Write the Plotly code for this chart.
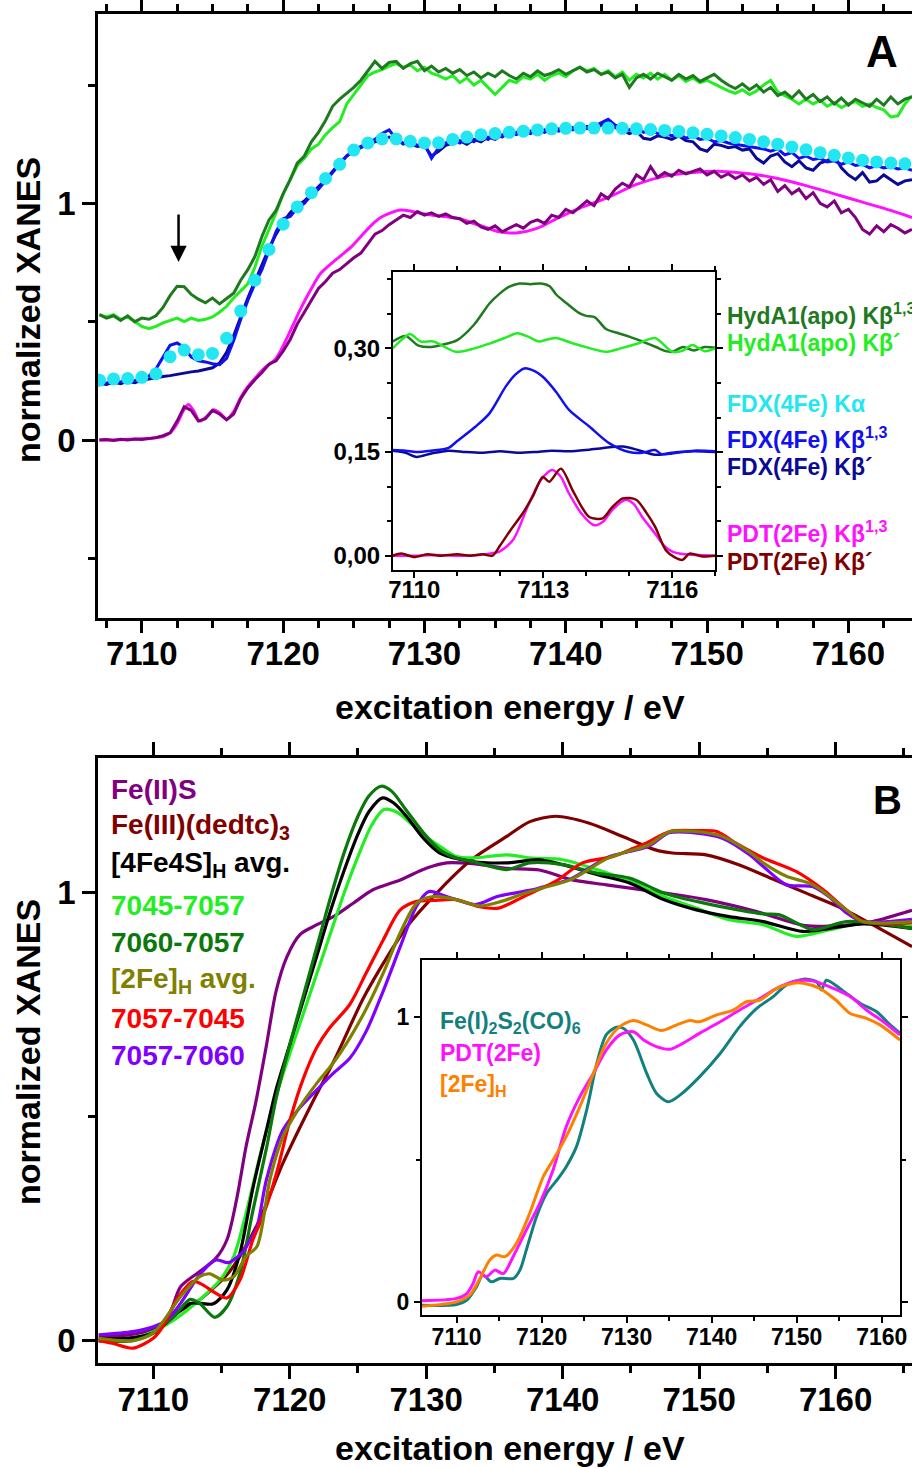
import plotly.graph_objects as go

# ---------------- Panel A: main XANES (0.5 eV grid for noisy traces) ----------------
E_A = [7107 + 0.5 * i for i in range(116)]

hyd_kb13 = [0.530, 0.515, 0.525, 0.505, 0.525, 0.500, 0.515, 0.510, 0.525, 0.560,
            0.610, 0.650, 0.648, 0.615, 0.595, 0.580, 0.600, 0.575, 0.598, 0.620,
            0.675, 0.720, 0.775, 0.860, 0.930, 0.970, 1.040, 1.100, 1.170, 1.200,
            1.260, 1.300, 1.350, 1.410, 1.440, 1.465, 1.490, 1.520, 1.560, 1.600,
            1.570, 1.595, 1.600, 1.570, 1.590, 1.600, 1.560, 1.580, 1.555, 1.570,
            1.550, 1.565, 1.540, 1.555, 1.530, 1.550, 1.535, 1.560, 1.540, 1.525,
            1.550, 1.535, 1.560, 1.540, 1.550, 1.565, 1.545, 1.560, 1.575, 1.555,
            1.565, 1.545, 1.555, 1.530, 1.545, 1.490, 1.530, 1.545, 1.525, 1.550,
            1.535, 1.520, 1.545, 1.525, 1.540, 1.515, 1.530, 1.545, 1.520, 1.500,
            1.485, 1.505, 1.480, 1.500, 1.470, 1.490, 1.455, 1.470, 1.445, 1.475,
            1.440, 1.460, 1.430, 1.450, 1.420, 1.445, 1.415, 1.440, 1.425, 1.410,
            1.440, 1.415, 1.450, 1.420, 1.440, 1.450]

hyd_kbp = [0.530, 0.520, 0.530, 0.510, 0.520, 0.500, 0.480, 0.470, 0.480, 0.495,
           0.505, 0.515, 0.500, 0.515, 0.505, 0.510, 0.520, 0.540, 0.565, 0.600,
           0.630, 0.660, 0.730, 0.820, 0.890, 0.960, 1.040, 1.100, 1.160, 1.190,
           1.230, 1.250, 1.290, 1.320, 1.345, 1.420, 1.460, 1.500, 1.540, 1.555,
           1.565, 1.580, 1.590, 1.575, 1.585, 1.560, 1.575, 1.550, 1.540, 1.525,
           1.540, 1.510, 1.530, 1.500, 1.520, 1.490, 1.460, 1.490, 1.520, 1.510,
           1.535, 1.525, 1.545, 1.520, 1.540, 1.550, 1.535, 1.560, 1.575, 1.560,
           1.570, 1.545, 1.560, 1.535, 1.555, 1.520, 1.545, 1.530, 1.550, 1.525,
           1.545, 1.520, 1.540, 1.515, 1.530, 1.510, 1.520, 1.505, 1.490, 1.475,
           1.465, 1.480, 1.460, 1.475, 1.500, 1.520, 1.470, 1.455, 1.440, 1.420,
           1.440, 1.420, 1.435, 1.410, 1.425, 1.405, 1.420, 1.430, 1.410, 1.420,
           1.405, 1.395, 1.365, 1.370, 1.420, 1.455]

fdx_kb13 = [0.245, 0.240, 0.250, 0.245, 0.255, 0.250, 0.262, 0.270, 0.300, 0.350,
            0.400, 0.410, 0.390, 0.350, 0.335, 0.330, 0.322, 0.318, 0.345, 0.420,
            0.510, 0.590, 0.660, 0.720, 0.800, 0.880, 0.935, 0.945, 0.980, 1.000,
            1.035, 1.060, 1.095, 1.130, 1.165, 1.200, 1.225, 1.240, 1.255, 1.270,
            1.295, 1.310, 1.270, 1.250, 1.262, 1.245, 1.250, 1.190, 1.235, 1.255,
            1.270, 1.255, 1.275, 1.260, 1.285, 1.270, 1.295, 1.280, 1.300, 1.290,
            1.305, 1.295, 1.310, 1.300, 1.315, 1.305, 1.320, 1.310, 1.325, 1.315,
            1.325, 1.340, 1.355, 1.330, 1.320, 1.310, 1.320, 1.300, 1.310, 1.295,
            1.300, 1.285, 1.295, 1.275, 1.285, 1.270, 1.275, 1.260, 1.265, 1.255,
            1.250, 1.245, 1.240, 1.235, 1.230, 1.220, 1.230, 1.205, 1.215, 1.190,
            1.200, 1.185, 1.190, 1.175, 1.180, 1.165, 1.175, 1.160, 1.165, 1.150,
            1.160, 1.150, 1.155, 1.145, 1.150, 1.140]

fdx_kbp = [0.240, 0.235, 0.245, 0.238, 0.248, 0.242, 0.252, 0.258, 0.262, 0.268,
           0.272, 0.278, 0.282, 0.288, 0.292, 0.298, 0.305, 0.325, 0.370, 0.440,
           0.520, 0.600, 0.670, 0.740, 0.810, 0.870, 0.920, 0.960, 0.990, 1.010,
           1.040, 1.070, 1.100, 1.135, 1.170, 1.200, 1.220, 1.235, 1.250, 1.260,
           1.270, 1.280, 1.265, 1.255, 1.250, 1.240, 1.245, 1.200, 1.220, 1.245,
           1.255, 1.265, 1.250, 1.270, 1.260, 1.280, 1.270, 1.290, 1.285, 1.300,
           1.295, 1.305, 1.295, 1.310, 1.300, 1.315, 1.305, 1.320, 1.310, 1.325,
           1.315, 1.330, 1.345, 1.320, 1.310, 1.295, 1.305, 1.275, 1.270, 1.285,
           1.280, 1.270, 1.285, 1.265, 1.260, 1.230, 1.220, 1.250, 1.245, 1.235,
           1.240, 1.225, 1.230, 1.190, 1.170, 1.200, 1.210, 1.175, 1.155, 1.180,
           1.150, 1.140, 1.170, 1.180, 1.200, 1.150, 1.120, 1.100, 1.130, 1.090,
           1.095, 1.120, 1.100, 1.080, 1.095, 1.100]

pdt_kbp_main = [0.000, 0.002, -0.002, 0.003, 0.000, 0.004, 0.002, 0.006, 0.010, 0.018,
                0.030, 0.080, 0.140, 0.125, 0.080, 0.090, 0.125, 0.110, 0.085, 0.110,
                0.175, 0.220, 0.255, 0.285, 0.320, 0.335, 0.375, 0.425, 0.490, 0.540,
                0.590, 0.640, 0.670, 0.705, 0.720, 0.745, 0.770, 0.790, 0.830, 0.870,
                0.885, 0.910, 0.930, 0.950, 0.940, 0.965, 0.950, 0.960, 0.945, 0.955,
                0.940, 0.935, 0.915, 0.925, 0.900, 0.890, 0.905, 0.880, 0.895, 0.910,
                0.895, 0.920, 0.930, 0.915, 0.950, 0.940, 0.975, 0.960, 0.985, 1.010,
                0.990, 1.040, 1.020, 1.060, 1.085, 1.070, 1.120, 1.100, 1.155, 1.110,
                1.130, 1.115, 1.140, 1.125, 1.135, 1.145, 1.120, 1.135, 1.110, 1.125,
                1.105, 1.120, 1.095, 1.110, 1.080, 1.100, 1.050, 1.075, 1.040, 1.060,
                1.020, 1.045, 1.000, 0.985, 1.010, 0.960, 0.975, 0.940, 0.890, 0.870,
                0.905, 0.880, 0.910, 0.895, 0.875, 0.890]

E_ka = [7107 + i for i in range(58)]
fdx_ka = [0.253, 0.258, 0.260, 0.265, 0.280, 0.352, 0.380, 0.360, 0.366, 0.430,
          0.545, 0.675, 0.805, 0.912, 0.985, 1.045, 1.105, 1.165, 1.225, 1.255,
          1.272, 1.272, 1.262, 1.255, 1.256, 1.270, 1.280, 1.290, 1.295, 1.300,
          1.305, 1.310, 1.315, 1.317, 1.318, 1.318, 1.318, 1.317, 1.315, 1.312,
          1.308, 1.304, 1.298, 1.292, 1.285, 1.278, 1.270, 1.260, 1.250, 1.238,
          1.226, 1.214, 1.203, 1.192, 1.182, 1.175, 1.170, 1.167]

E_pdt_main = [7107, 7108, 7109, 7110, 7111, 7111.5, 7112, 7112.5, 7113, 7113.3,
              7113.7, 7114.1, 7114.6, 7115.1, 7115.6, 7116, 7116.5, 7117, 7117.5, 7118,
              7118.6, 7119.5, 7120.5, 7121.2, 7122, 7122.6, 7123.3, 7124, 7124.8, 7125.5,
              7126.2, 7126.9, 7127.6, 7128.3, 7129, 7129.7, 7130.6, 7131.6, 7132.5, 7133.5,
              7134.5, 7135.3, 7136.5, 7138, 7139.5, 7141, 7143, 7145, 7147, 7149,
              7151, 7153, 7155, 7157, 7159, 7161, 7163, 7164.5]
pdt_kb13_main = [0, 0, 0.003, 0.005, 0.01, 0.015, 0.03, 0.07, 0.13, 0.15,
                 0.12, 0.08, 0.1, 0.128, 0.11, 0.088, 0.12, 0.18, 0.225, 0.26,
                 0.3, 0.345, 0.46, 0.55, 0.64, 0.70, 0.74, 0.775, 0.815, 0.86,
                 0.905, 0.94, 0.96, 0.972, 0.968, 0.958, 0.95, 0.943, 0.935, 0.915,
                 0.895, 0.88, 0.875, 0.895, 0.94, 0.98, 1.025, 1.08, 1.115, 1.13,
                 1.135, 1.125, 1.105, 1.075, 1.04, 1.005, 0.97, 0.94]

# ---------------- Panel A inset: Kbeta-detected pre-edge ----------------
ins_hyd13_x = [7109.5, 7109.8, 7110.1, 7110.4, 7110.7, 7111.0, 7111.4, 7111.75, 7112.0, 7112.2,
               7112.45, 7112.7, 7112.95, 7113.15, 7113.3, 7113.55, 7113.84, 7114.0, 7114.2, 7114.46,
               7114.75, 7115.0, 7115.3, 7115.62, 7115.85, 7116.0, 7116.25, 7116.5, 7116.75, 7117.0]
ins_hyd13_y = [0.31, 0.318, 0.304, 0.302, 0.306, 0.312, 0.335, 0.365, 0.38, 0.389,
               0.394, 0.393, 0.394, 0.39, 0.378, 0.365, 0.351, 0.347, 0.345, 0.328,
               0.322, 0.317, 0.31, 0.302, 0.296, 0.295, 0.302, 0.297, 0.302, 0.301]
ins_hydp_x = [7109.5, 7109.7, 7109.9, 7110.15, 7110.45, 7110.97, 7111.4, 7111.75, 7112.1, 7112.4,
              7112.65, 7112.9, 7113.1, 7113.3, 7113.7, 7114.1, 7114.46, 7114.8, 7115.2, 7115.6,
              7116.0, 7116.25, 7116.47, 7116.75, 7117.0]
ins_hydp_y = [0.300, 0.312, 0.321, 0.31, 0.31, 0.295, 0.300, 0.307, 0.315, 0.322,
              0.317, 0.31, 0.313, 0.315, 0.307, 0.300, 0.295, 0.300, 0.307, 0.315,
              0.295, 0.297, 0.305, 0.296, 0.300]
ins_fdx13_x = [7109.5, 7109.8, 7110.05, 7110.4, 7110.8, 7111.0, 7111.43, 7111.75, 7112.13, 7112.35,
               7112.56, 7112.8, 7112.99, 7113.3, 7113.6, 7114.07, 7114.53, 7115.0, 7115.3, 7115.6,
               7115.75, 7116.0, 7116.5, 7117.0]
ins_fdx13_y = [0.153, 0.152, 0.15, 0.152, 0.156, 0.166, 0.187, 0.206, 0.245, 0.262,
               0.271, 0.267, 0.259, 0.237, 0.211, 0.187, 0.163, 0.150, 0.149, 0.153,
               0.147, 0.148, 0.152, 0.151]
ins_fdxp_x = [7109.5, 7109.8, 7110.05, 7110.4, 7110.8, 7111.2, 7111.6, 7112.0, 7112.4, 7112.8,
              7113.2, 7113.6, 7114.0, 7114.4, 7114.85, 7115.2, 7115.6, 7116.0, 7116.5, 7117.0]
ins_fdxp_y = [0.152, 0.149, 0.143, 0.148, 0.152, 0.150, 0.149, 0.151, 0.149, 0.150,
              0.152, 0.151, 0.153, 0.156, 0.158, 0.153, 0.146, 0.149, 0.151, 0.150]
ins_pdt13_x = [7109.5, 7110, 7110.5, 7111, 7111.5, 7111.75, 7111.98, 7112.3, 7112.67, 7112.95,
               7113.2, 7113.4, 7113.6, 7113.9, 7114.19, 7114.4, 7114.6, 7114.92, 7115.1, 7115.3,
               7115.6, 7115.8, 7116.0, 7116.3, 7116.6, 7117.0]
ins_pdt13_y = [0.0, 0.0, 0.001, 0.0, 0.001, 0.003, 0.006, 0.023, 0.076, 0.11,
               0.124, 0.115, 0.09, 0.06, 0.044, 0.05, 0.066, 0.081, 0.075, 0.056,
               0.032, 0.015, 0.006, 0.002, 0.001, 0.0]
ins_pdtp_x = [7109.5, 7109.7, 7110.0, 7110.3, 7110.6, 7111.0, 7111.3, 7111.6, 7111.82, 7112.0,
              7112.25, 7112.52, 7112.75, 7112.99, 7113.14, 7113.41, 7113.68, 7113.9, 7114.07, 7114.38,
              7114.6, 7114.85, 7115.16, 7115.4, 7115.6, 7115.85, 7116.05, 7116.24, 7116.4, 7116.7, 7117.0]
ins_pdtp_y = [0.0, 0.003, -0.002, 0.002, 0.0, 0.002, 0.0, 0.002, 0.0, 0.015,
              0.038, 0.061, 0.085, 0.114, 0.107, 0.126, 0.095, 0.07, 0.056, 0.054,
              0.07, 0.083, 0.081, 0.062, 0.042, 0.008, -0.002, -0.006, 0.003, -0.001, 0.0]

# ---------------- Panel B: main XANES ----------------
fes_x = [7106, 7108, 7110, 7111, 7112, 7113.4, 7114.6, 7115.4, 7116.1, 7116.8,
         7117.5, 7118.3, 7119.0, 7119.8, 7120.75, 7122, 7123.2, 7124.65, 7126.1, 7128.1,
         7130, 7131.5, 7133.4, 7135.9, 7138.3, 7140.7, 7143.2, 7146.8, 7150.5, 7154.15,
         7157.8, 7160.3, 7162.7, 7165.6]
fes_y = [0.01, 0.012, 0.025, 0.045, 0.12, 0.154, 0.184, 0.225, 0.314, 0.433,
         0.53, 0.66, 0.78, 0.857, 0.906, 0.928, 0.946, 0.976, 1.006, 1.028,
         1.054, 1.066, 1.064, 1.054, 1.05, 1.028, 1.017, 1.002, 0.984, 0.958,
         0.926, 0.926, 0.935, 0.96]
dedtc_x = [7106, 7108, 7110, 7111.7, 7113.4, 7115.4, 7116.35, 7117.8, 7119.5, 7121.5,
           7123.4, 7125.5, 7128.6, 7131, 7133.4, 7135.9, 7137.6, 7139.5, 7141.9, 7144.4,
           7146.8, 7148.05, 7150.5, 7152.9, 7155.4, 7157.8, 7160.3, 7162.7, 7165.6]
dedtc_y = [0.0, 0.0, 0.017, 0.061, 0.091, 0.147, 0.188, 0.27, 0.396, 0.522,
           0.634, 0.77, 0.924, 1.006, 1.075, 1.125, 1.158, 1.17, 1.155, 1.125,
           1.095, 1.088, 1.084, 1.062, 1.03, 0.999, 0.967, 0.928, 0.879]
avg4_x = [7106, 7108, 7110, 7111.7, 7112.7, 7113.5, 7114.4, 7115.4, 7116.35, 7117.3,
          7118.3, 7119, 7120, 7121, 7122, 7123, 7124, 7125, 7125.8, 7126.8,
          7127.6, 7128.55, 7129.8, 7131, 7133.4, 7135.9, 7138.3, 7140, 7142.5, 7144.9,
          7147.4, 7149.8, 7152.2, 7154.7, 7157.6, 7159.6, 7162, 7165.6]
avg4_y = [0.005, 0.005, 0.017, 0.06, 0.083, 0.083, 0.082, 0.113, 0.195, 0.34,
          0.47, 0.56, 0.66, 0.76, 0.86, 0.96, 1.05, 1.13, 1.18, 1.211,
          1.2, 1.17, 1.121, 1.088, 1.069, 1.066, 1.073, 1.062, 1.04, 1.021,
          0.984, 0.961, 0.946, 0.935, 0.913, 0.92, 0.93, 0.92]
s4557_x = [7106, 7108.5, 7110, 7111.7, 7113.4, 7114.9, 7115.9, 7116.8, 7117.8, 7118.9,
           7120, 7121, 7122, 7123, 7124, 7125, 7126, 7126.9, 7127.8, 7128.55,
           7129.8, 7131, 7132.2, 7133.4, 7135.9, 7137.6, 7140, 7142.5, 7144.9, 7147.4,
           7149.8, 7152.2, 7154.7, 7157.1, 7159.6, 7162, 7165.6]
s4557_y = [0.0, 0.005, 0.02, 0.05, 0.091, 0.135, 0.188, 0.284, 0.41, 0.537,
           0.64, 0.73, 0.82, 0.91, 1.0, 1.08, 1.15, 1.185, 1.18, 1.163,
           1.129, 1.103, 1.08, 1.077, 1.084, 1.077, 1.073, 1.051, 1.025, 0.991,
           0.965, 0.939, 0.928, 0.902, 0.917, 0.932, 0.924]
s6057_x = [7106, 7108.5, 7110, 7111.7, 7112.7, 7113.4, 7114.5, 7115.4, 7116.35, 7117.3,
           7118.3, 7119, 7120, 7121, 7122, 7123, 7124, 7125, 7125.8, 7126.7,
           7127.5, 7128.5, 7129.8, 7131, 7132.2, 7133.4, 7135.9, 7137.6, 7140, 7142.5,
           7144.9, 7147.4, 7149.8, 7152.2, 7154.7, 7155.9, 7158.35, 7160.8, 7165.6]
s6057_y = [0.0, 0.0, 0.017, 0.061, 0.092, 0.083, 0.052, 0.076, 0.15, 0.29,
           0.43, 0.54, 0.66, 0.77, 0.88, 0.99, 1.09, 1.17, 1.215, 1.237,
           1.225, 1.185, 1.133, 1.095, 1.077, 1.069, 1.051, 1.066, 1.062, 1.043,
           1.032, 0.999, 0.98, 0.965, 0.952, 0.95, 0.917, 0.935, 0.92]
avg2_x = [7106, 7108.5, 7110, 7112, 7113.4, 7114.15, 7115.1, 7115.9, 7116.8, 7117.6,
          7118.55, 7119.5, 7120.5, 7122.0, 7123.2, 7124.4, 7125.6, 7126.85, 7128.1, 7129.3,
          7130.5, 7132.2, 7133.9, 7135.5, 7137.1, 7138.3, 7140.7, 7143.2, 7144.4, 7146.3,
          7147.8, 7149.7, 7151.7, 7153.7, 7154.7, 7156.4, 7158.35, 7160.8, 7162.0, 7165.6]
avg2_y = [0.005, 0.0, 0.017, 0.098, 0.143, 0.149, 0.135, 0.143, 0.188, 0.21,
          0.36, 0.455, 0.51, 0.575, 0.62, 0.675, 0.74, 0.82, 0.91, 0.976,
          0.991, 0.984, 0.97, 0.98, 0.997, 1.008, 1.03, 1.075, 1.088, 1.106,
          1.135, 1.136, 1.125, 1.09, 1.066, 1.036, 1.017, 0.961, 0.935, 0.935]
s5745_x = [7106, 7107, 7108.5, 7110, 7110.7, 7111.7, 7112.9, 7113.6, 7114.4, 7115.4,
           7116.35, 7117.3, 7118.06, 7119, 7120, 7121, 7122, 7122.9, 7124.4, 7125.6,
           7126.85, 7128.1, 7129.3, 7130.5, 7132.2, 7133.9, 7135.3, 7137.1, 7139.5, 7141.45,
           7143.7, 7144.9, 7146.1, 7147.85, 7149.8, 7151.3, 7152.7, 7154.7, 7157.1, 7159.1,
           7160.8, 7162.0, 7165.6]
s5745_y = [0.0, -0.006, -0.017, 0.005, 0.031, 0.091, 0.132, 0.125, 0.109, 0.095,
           0.135, 0.225, 0.28, 0.37, 0.49, 0.585, 0.655, 0.697, 0.75, 0.82,
           0.894, 0.961, 0.98, 0.982, 0.984, 0.968, 0.965, 0.99, 1.025, 1.066,
           1.08, 1.095, 1.11, 1.136, 1.138, 1.136, 1.11, 1.077, 1.047, 1.006,
           0.961, 0.935, 0.932]
s5760_x = [7106, 7108.5, 7110, 7111, 7112, 7113.4, 7114.6, 7115.5, 7116.6, 7117.1,
           7117.6, 7118.3, 7119.5, 7120.75, 7122, 7123.2, 7124.4, 7125.6, 7126.85, 7128.1,
           7129.3, 7130.2, 7131.5, 7133.6, 7135.2, 7137.1, 7138.3, 7140.7, 7143.2, 7144.4,
           7146.3, 7147.8, 7149.7, 7151.7, 7153.7, 7154.7, 7156.4, 7158.35, 7159.5, 7160.8,
           7162.0, 7165.6]
s5760_y = [0.013, 0.02, 0.031, 0.046, 0.083, 0.147, 0.18, 0.174, 0.199, 0.225,
           0.254, 0.36, 0.47, 0.52, 0.56, 0.597, 0.63, 0.69, 0.78, 0.879,
           0.97, 1.002, 0.991, 0.973, 0.991, 1.002, 1.01, 1.032, 1.077, 1.088,
           1.103, 1.133, 1.133, 1.121, 1.084, 1.058, 1.017, 1.013, 0.991, 0.954,
           0.935, 0.94]

# ---------------- Panel B inset ----------------
fe2s2_x = [7105.9, 7110.0, 7111.2, 7112.35, 7113.1, 7114.1, 7115.1, 7116.7, 7117.45, 7118.2,
           7119.4, 7120.6, 7121.8, 7122.9, 7124.1, 7125.3, 7126.5, 7127.6, 7128.8, 7129.6,
           7130.8, 7132.35, 7133.5, 7134.9, 7136.3, 7138.6, 7141.0, 7143.3, 7145.3, 7147.25,
           7148.8, 7150.8, 7152.35, 7152.9, 7153.5, 7155.5, 7157.45, 7159.4, 7161.0, 7162.15]
fe2s2_y = [-0.01, -0.007, 0.008, 0.055, 0.096, 0.072, 0.084, 0.084, 0.113, 0.183,
           0.3, 0.382, 0.428, 0.475, 0.545, 0.673, 0.837, 0.936, 0.963, 0.959,
           0.918, 0.802, 0.732, 0.702, 0.726, 0.79, 0.871, 0.965, 1.029, 1.07,
           1.111, 1.131, 1.122, 1.093, 1.127, 1.089, 1.047, 1.017, 0.971, 0.942]
pdt_x = [7105.9, 7110, 7111.2, 7111.95, 7112.55, 7113.5, 7114.5, 7115.5, 7116.65, 7118.2,
         7119.8, 7121.35, 7122.9, 7124.5, 7126.1, 7127.6, 7129.2, 7130.8, 7132.0, 7133.5,
         7135.1, 7136.65, 7138.6, 7141.0, 7143.3, 7145.7, 7147.65, 7149.6, 7151.6, 7153.3,
         7154.3, 7156.3, 7158.2, 7160.2, 7162.15]
pdt_y = [0.006, 0.014, 0.031, 0.067, 0.107, 0.09, 0.113, 0.101, 0.16, 0.253,
         0.347, 0.463, 0.615, 0.72, 0.802, 0.883, 0.936, 0.947, 0.918, 0.895,
         0.886, 0.907, 0.942, 0.982, 1.023, 1.064, 1.099, 1.122, 1.126, 1.111,
         1.099, 1.07, 1.023, 0.982, 0.936]
h2fe_x = [7105.9, 7110, 7111.55, 7112.75, 7113.9, 7114.7, 7115.7, 7117.05, 7118.6, 7120.2,
          7121.35, 7122.9, 7124.5, 7126.1, 7127.6, 7129.2, 7130.8, 7132.35, 7134.1, 7135.9,
          7137.45, 7138.6, 7140.6, 7142.55, 7144.1, 7145.7, 7147.65, 7149.6, 7150.8, 7152.7,
          7154.6, 7156.3, 7158.2, 7159.8, 7162.15]
h2fe_y = [-0.013, 0.002, 0.026, 0.084, 0.148, 0.166, 0.16, 0.207, 0.312, 0.44,
          0.498, 0.58, 0.685, 0.802, 0.907, 0.965, 0.986, 0.971, 0.951, 0.971,
          0.986, 0.982, 1.006, 1.023, 1.052, 1.058, 1.099, 1.117, 1.117, 1.099,
          1.058, 1.011, 0.994, 0.971, 0.918]

# ---------------- labels ----------------
legend_A = [("HydA1(apo) Kβ<sup>1,3</sup>", "#1f7a1f", 314),
            ("HydA1(apo) Kβ´", "#22ee22", 343),
            ("FDX(4Fe) Kα", "#22e6f2", 404),
            ("FDX(4Fe) Kβ<sup>1,3</sup>", "#1010f0", 438),
            ("FDX(4Fe) Kβ´", "#0a0a96", 467),
            ("PDT(2Fe) Kβ<sup>1,3</sup>", "#ff10ff", 532),
            ("PDT(2Fe) Kβ´", "#800000", 562)]
legend_B = [("Fe(II)S", "#800080", 789),
            ("Fe(III)(dedtc)<sub>3</sub>", "#800000", 826),
            ("[4Fe4S]<sub>H</sub> avg.", "#000000", 865),
            ("7045-7057", "#22ee22", 905),
            ("7060-7057", "#0a780a", 942),
            ("[2Fe]<sub>H</sub> avg.", "#808000", 980),
            ("7057-7045", "#ff0000", 1018),
            ("7057-7060", "#8000ff", 1055)]
legend_Bi = [("Fe(I)<sub>2</sub>S<sub>2</sub>(CO)<sub>6</sub>", "#138080", 1022),
             ("PDT(2Fe)", "#ff10ff", 1053),
             ("[2Fe]<sub>H</sub>", "#ff8000", 1085)]

W, H = 912, 1468
FONT = "Liberation Sans, Arial, Helvetica, sans-serif"

fig = go.Figure()

def add(x, y, color, ax, width=3.0, shape="linear"):
    fig.add_trace(go.Scatter(x=x, y=y, mode="lines", xaxis=ax[0], yaxis=ax[1],
                             line=dict(color=color, width=width, shape=shape, smoothing=0.8),
                             showlegend=False, hoverinfo="skip"))

A = ("x", "y")
Ai = ("x2", "y2")
B = ("x3", "y3")
Bi = ("x4", "y4")

# Panel A main
add(E_A, hyd_kbp, "#22ee22", A)
add(E_A, hyd_kb13, "#1f7a1f", A)
add(E_A, fdx_kbp, "#0a0a96", A)
add(E_A, fdx_kb13, "#1010f0", A)
fig.add_trace(go.Scatter(x=E_ka, y=fdx_ka, mode="markers", xaxis="x", yaxis="y",
                         marker=dict(color="#22e6f2", size=13, line=dict(width=0)),
                         showlegend=False, hoverinfo="skip"))
add(E_pdt_main, pdt_kb13_main, "#ff10ff", A, shape="spline")
add(E_A, pdt_kbp_main, "#800080", A)

# Panel A inset
add(ins_hyd13_x, ins_hyd13_y, "#1f7a1f", Ai, 2.5, "spline")
add(ins_hydp_x, ins_hydp_y, "#22ee22", Ai, 2.5, "spline")
add(ins_fdxp_x, ins_fdxp_y, "#0a0a96", Ai, 2.5, "spline")
add(ins_fdx13_x, ins_fdx13_y, "#1010f0", Ai, 2.5, "spline")
add(ins_pdt13_x, ins_pdt13_y, "#ff10ff", Ai, 2.5, "spline")
add(ins_pdtp_x, ins_pdtp_y, "#800000", Ai, 2.5, "spline")

# Panel B main
add(fes_x, fes_y, "#800080", B, 3.2, "spline")
add(dedtc_x, dedtc_y, "#800000", B, 3.2, "spline")
add(s4557_x, s4557_y, "#22ee22", B, 3.2, "spline")
add(avg4_x, avg4_y, "#000000", B, 3.2, "spline")
add(s6057_x, s6057_y, "#0a780a", B, 3.2, "spline")
add(s5760_x, s5760_y, "#8000ff", B, 3.2, "spline")
add(s5745_x, s5745_y, "#ff0000", B, 3.2, "spline")
add(avg2_x, avg2_y, "#808000", B, 3.2, "spline")

# Panel B inset
add(fe2s2_x, fe2s2_y, "#138080", Bi, 3.0, "spline")
add(pdt_x, pdt_y, "#ff10ff", Bi, 3.0, "spline")
add(h2fe_x, h2fe_y, "#ff8000", Bi, 3.0, "spline")

def px(xp):
    return xp / W

def py(yp):
    return 1 - yp / H

def xax(domain, rng, dtick, tick0, minor, fsize, lw, tlen, mlen, anchor,
        mirror="allticks", standoff=0):
    return dict(domain=domain, range=rng, dtick=dtick, tick0=tick0, anchor=anchor,
                automargin=False, ticklabelstandoff=standoff,
                showline=True, linecolor="black", linewidth=lw, mirror=mirror,
                ticks="outside", ticklen=tlen, tickwidth=lw, tickcolor="black",
                minor=dict(dtick=minor, tick0=tick0, ticks="outside", ticklen=mlen,
                           tickwidth=lw, tickcolor="black", showgrid=False),
                showgrid=False, zeroline=False,
                tickfont=dict(family=FONT, size=fsize, color="black", weight="bold"))

layout = dict(width=W, height=H, margin=dict(l=0, r=0, t=0, b=0, autoexpand=False),
              paper_bgcolor="white", plot_bgcolor="white", showlegend=False)

layout["xaxis"] = xax([px(98), 1.0], [7106.9, 7164.5], 10, 7110, 2.5, 33, 2.5, 12, 7, "y", standoff=-7)
layout["yaxis"] = xax([py(618), py(14)], [-0.752, 1.80], 1, 0, 0.5, 33, 2.5, 13, 7, "x", mirror=False)
layout["xaxis2"] = xax([px(392.7), px(715.3)], [7109.5, 7117.0], 3, 7110, 1, 24, 1.5, 6, 4, "y2", standoff=-9)
layout["yaxis2"] = xax([py(570), py(271.7)], [-0.0207, 0.411], 0.15, 0, 0.05, 24, 1.5, 6, 4, "x2")
layout["yaxis2"]["tickvals"] = [0, 0.15, 0.30]
layout["yaxis2"]["ticktext"] = ["0,00", "0,15", "0,30"]
layout["xaxis3"] = xax([px(98), 1.0], [7105.95, 7165.6], 10, 7110, 5, 33, 2.5, 13, 7, "y3", standoff=-7)
layout["yaxis3"] = xax([py(1363), py(758)], [-0.05, 1.30], 1, 0, 0.5, 33, 2.5, 13, 7, "x3", mirror=False)
layout["xaxis4"] = xax([px(421.7), px(900)], [7105.9, 7162.15], 10, 7110, 5, 23, 1.5, 6, 4, "y4", standoff=-5)
layout["yaxis4"] = xax([py(1315), py(960)], [-0.044, 1.198], 1, 0, 0.5, 23, 1.5, 6, 4, "x4")

ann = []
def txt(text, x, y, size, color="black", xanchor="center", angle=0):
    ann.append(dict(text=text, x=x, y=y, xref="paper", yref="paper", showarrow=False,
                    xanchor=xanchor, yanchor="middle", textangle=angle,
                    font=dict(family=FONT, size=size, color=color, weight="bold")))

txt("normalized XANES", px(28), py(310), 34, angle=-90)
txt("excitation energy / eV", px(510), py(707), 34)
txt("normalized XANES", px(28), py(1052), 34, angle=-90)
txt("excitation energy / eV", px(510), py(1448), 34)
txt("A", px(882), py(51), 44)
txt("B", px(887), py(800), 40)
for t, c, yy in legend_A:
    txt(t, px(725), py(yy), 23, c, "left")
for t, c, yy in legend_B:
    txt(t, px(109), py(yy), 28, c, "left")
for t, c, yy in legend_Bi:
    txt(t, px(438), py(yy), 23, c, "left")

ann.append(dict(x=7112.6, y=0.752, xref="x", yref="y", ax=0, ay=-49, showarrow=True,
                arrowhead=2, arrowsize=1.3, arrowwidth=2.5, arrowcolor="black", text=""))
layout["annotations"] = ann

fig.update_layout(**layout)
fig.write_html("out.html", config={"displayModeBar": False})

# remove the default page margin so the figure sits at the window's top-left corner
with open("out.html", "r", encoding="utf-8") as fh:
    page = fh.read()
page = page.replace("<head>", "<head><style>html,body{margin:0;padding:0;overflow:hidden;}</style>", 1)
with open("out.html", "w", encoding="utf-8") as fh:
    fh.write(page)
